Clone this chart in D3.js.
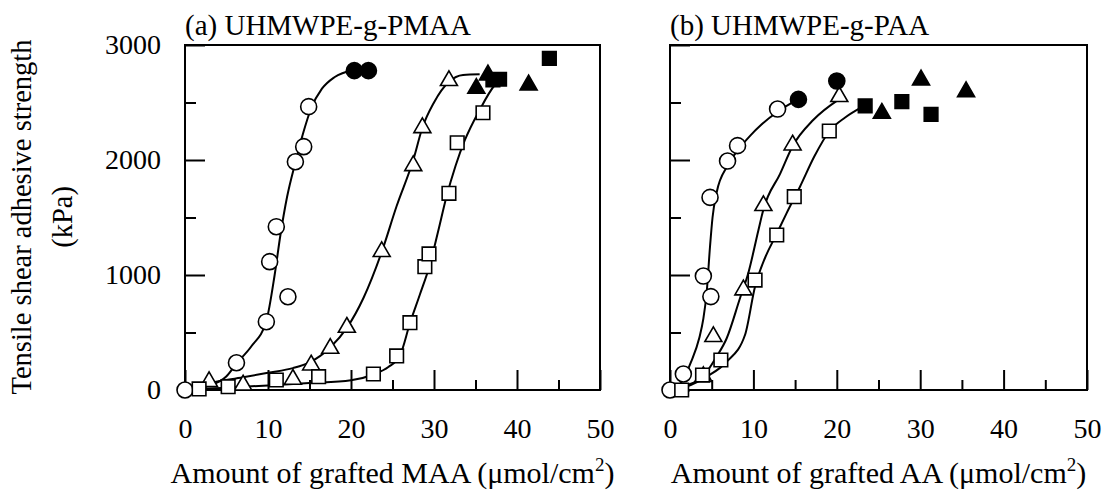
<!DOCTYPE html>
<html><head><meta charset="utf-8">
<script src="https://cdn.jsdelivr.net/npm/d3@7"></script>
<style>body{margin:0;background:#fff}svg{display:block}text{font-family:"Liberation Serif","Times New Roman",serif;fill:#000}</style>
</head><body><svg id="c" width="1103" height="491"></svg>
<script>
// ---------- data ----------
const xTicks = [0,10,20,30,40,50];
const yTicks = [0,1000,2000,3000];
const xMinor = [5,15,25,35,45];
const yMinor = [500,1500,2500];

// Panel (a) UHMWPE-g-PMAA
const aCircleOpen = [[0,0],[6.2,237],[9.8,594],[10.2,1116],[12.4,811],[11.0,1420],[13.3,1985],[14.3,2116],[14.9,2464]];
const aCircleFilled = [[20.4,2777],[22.1,2777]];
const aTriOpen = [[2.9,72],[7.0,43],[13.0,93],[15.2,217],[17.5,362],[19.5,545],[23.7,1203],[27.5,1950],[28.6,2281],[31.8,2690]];
const aTriFilled = [[35.1,2623],[36.5,2739],[41.4,2652]];
const aSqOpen = [[1.7,9],[5.2,29],[11.0,87],[16.1,116],[22.7,139],[25.5,296],[27.1,585],[28.9,1072],[29.4,1183],[31.8,1710],[32.8,2150],[35.9,2411]];
const aSqFilled = [[37.1,2696],[37.9,2702],[43.9,2884]];
const aCircleFit = [[0,0],[3,40],[5,120],[6.2,230],[8,380],[9.8,600],[10.8,1000],[11.5,1350],[12.3,1680],[13.3,1980],[14.3,2250],[15.2,2450],[16.5,2620],[18,2720],[20.3,2780]];
const aTriFit = [[0,0],[3,60],[7,110],[10,150],[13,190],[15,240],[17.5,370],[19.5,540],[21.5,800],[23.7,1200],[25.5,1600],[27.5,2000],[28.6,2280],[30,2500],[31.8,2680],[33.5,2740],[35.5,2745]];
const aSqFit = [[0,0],[5,20],[10,40],[15,60],[20,85],[22.7,135],[24.5,200],[25.9,300],[27.1,580],[28.3,830],[29.5,1090],[30.5,1380],[31.5,1680],[32.6,1950],[33.7,2170],[35.5,2435],[37.3,2650],[38,2700]];

// Panel (b) UHMWPE-g-PAA
const bCircleOpen = [[0,0],[1.6,139],[4.0,991],[4.9,812],[4.8,1675],[6.9,1991],[8.1,2125],[12.9,2443]];
const bCircleFilled = [[15.4,2527],[20.0,2687]];
const bTriOpen = [[4.0,116],[5.2,464],[8.8,870],[11.2,1603],[14.7,2130],[20.3,2551]];
const bTriFilled = [[25.4,2406],[30.1,2696],[35.5,2594]];
const bSqOpen = [[1.4,0],[3.9,130],[6.1,261],[10.2,956],[12.8,1348],[14.9,1681],[19.1,2252]];
const bSqFilled = [[23.4,2470],[27.8,2507],[31.3,2397]];
const bCircleFit = [[0,0],[1.5,80],[2.5,240],[3.5,450],[4.0,620],[4.4,850],[4.8,1250],[5.1,1500],[5.6,1720],[6.9,1950],[8.3,2100],[9.6,2210],[11,2310],[12.9,2420],[15.2,2520]];
const bTriFit = [[0,0],[2,40],[4,120],[5.5,280],[6.8,450],[8.4,800],[9.4,1020],[10.6,1390],[11.2,1570],[13.2,1880],[14.7,2120],[17.2,2350],[20.3,2530]];
const bSqFit = [[0,0],[2,30],[4.4,116],[6.8,246],[9.0,480],[10.2,900],[11.4,1150],[12.6,1330],[14,1540],[15.6,1770],[17.3,2030],[19.1,2250],[21,2370],[23,2460]];

const panels = [
  {title:"(a) UHMWPE-g-PMAA", xlab:"MAA", left:185, right:600, showY:true,
   fits:[aCircleFit,aTriFit,aSqFit],
   marks:[[aCircleOpen,"circle",false],[aTriOpen,"tri",false],[aSqOpen,"sq",false],
          [aTriFilled,"tri",true],[aSqFilled,"sq",true],[aCircleFilled,"circle",true]]},
  {title:"(b) UHMWPE-g-PAA", xlab:"AA", left:670, right:1087, showY:false,
   fits:[bCircleFit,bTriFit,bSqFit],
   marks:[[bCircleOpen,"circle",false],[bTriOpen,"tri",false],[bSqOpen,"sq",false],
          [bTriFilled,"tri",true],[bSqFilled,"sq",true],[bCircleFilled,"circle",true]]}
];

// ---------- drawing ----------
const svg = d3.select("#c");
const plotTop = 45, plotBottom = 390;
const y = d3.scaleLinear().domain([0,3000]).range([plotBottom, plotTop]);
const symType = {circle:d3.symbolCircle, tri:d3.symbolTriangle, sq:d3.symbolSquare};
const symSize = {circle:Math.PI*8*8, tri:125, sq:185};

panels.forEach(p => {
  const x = d3.scaleLinear().domain([0,50]).range([p.left, p.right]);
  const g = svg.append("g");

  g.append("rect").attr("x",p.left).attr("y",plotTop).attr("width",p.right-p.left).attr("height",plotBottom-plotTop)
    .attr("fill","none").attr("stroke","#000").attr("stroke-width",2);

  const xa = g.append("g").attr("transform",`translate(0,${plotBottom})`)
    .call(d3.axisBottom(x).tickValues(xTicks).tickSize(-20).tickPadding(28).tickFormat(d3.format("d")));
  const xm = g.append("g").attr("transform",`translate(0,${plotBottom})`)
    .call(d3.axisBottom(x).tickValues(xMinor).tickSize(-10).tickFormat(""));
  const ya = g.append("g").attr("transform",`translate(${p.left},0)`)
    .call(d3.axisLeft(y).tickValues(yTicks).tickSize(-20).tickPadding(24).tickFormat(p.showY ? d3.format("d") : ""));
  const ym = g.append("g").attr("transform",`translate(${p.left},0)`)
    .call(d3.axisLeft(y).tickValues(yMinor).tickSize(-11).tickFormat(""));
  [xa,xm,ya,ym].forEach(a => {
    a.select(".domain").remove();
    a.selectAll("line").attr("stroke","#000").attr("stroke-width",2);
    a.selectAll("text").attr("font-size",28).style("font-family","Liberation Serif");
  });

  const line = d3.line().x(d=>x(d[0])).y(d=>y(d[1])).curve(d3.curveMonotoneX);
  p.fits.forEach(f => g.append("path").attr("d",line(f)).attr("fill","none").attr("stroke","#000").attr("stroke-width",2));

  p.marks.forEach(([data,type,filled]) => {
    g.selectAll(null).data(data).enter().append("path")
      .attr("transform",d=>`translate(${x(d[0])},${y(d[1])})`)
      .attr("d",d3.symbol().type(symType[type]).size(symSize[type]))
      .attr("fill",filled?"#000":"#fff").attr("stroke","#000").attr("stroke-width",1.6);
  });

  g.append("text").attr("x",p.left).attr("y",35).attr("font-size",29).text(p.title);

  const xl = g.append("text").attr("x",(p.left+p.right)/2).attr("y",483).attr("font-size",30).attr("text-anchor","middle");
  xl.append("tspan").text(`Amount of grafted ${p.xlab} (\u03BCmol/cm`);
  xl.append("tspan").attr("font-size",19).attr("dy",-12).text("2");
  xl.append("tspan").attr("dy",12).text(")");
});

svg.append("text").attr("transform","translate(31,217) rotate(-90)").attr("text-anchor","middle").attr("font-size",28.5)
  .text("Tensile shear adhesive strength");
svg.append("text").attr("transform","translate(72,217) rotate(-90)").attr("text-anchor","middle").attr("font-size",28.5)
  .text("(kPa)");
</script></body></html>
